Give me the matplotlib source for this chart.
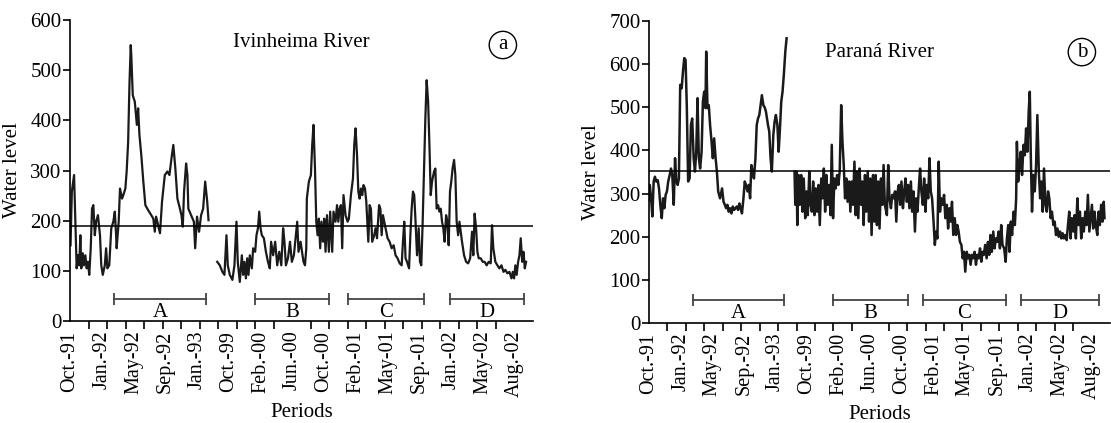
import numpy as np
import matplotlib.pyplot as plt

plt.rcParams['font.family'] = ['Liberation Serif', 'DejaVu Serif']

month_labels = ['Oct.-91', 'Jan.-92', 'May-92', 'Sep.-92', 'Jan.-93', 'Oct.-99', 'Feb.-00',
                'Jun.-00', 'Oct.-00', 'Feb.-01', 'May-01', 'Sep.-01', 'Jan.-02', 'May-02', 'Aug.-02']
n_ticks = 25

# Ivinheima River, period 1991-93 (x in tick units)
ivin_x1 = [0.03, 0.10, 0.22, 0.29, 0.36, 0.43, 0.50, 0.56, 0.61, 0.69, 0.76, 0.83, 0.90, 0.97,
           1.04, 1.12, 1.19, 1.26, 1.34, 1.41, 1.51, 1.62, 1.69, 1.77, 1.88, 1.95, 2.02, 2.12,
           2.23, 2.34, 2.42, 2.49, 2.52, 2.63, 2.70, 2.81, 2.88, 2.99, 3.06, 3.14, 3.21, 3.28,
           3.31, 3.39, 3.50, 3.61, 3.68, 3.75, 3.85, 3.96, 4.07, 4.22, 4.39, 4.50, 4.58, 4.65,
           4.76, 4.86, 4.97, 5.12, 5.26, 5.37, 5.48, 5.58, 5.69, 5.80, 5.91, 6.02, 6.09, 6.16,
           6.27, 6.34, 6.39, 6.54, 6.69, 6.76, 6.86, 6.97, 7.08, 7.19, 7.30, 7.41, 7.48]
ivin_y1 = [151, 258, 291, 198, 105, 131, 111, 171, 105, 135, 111, 131, 105, 118,
           92, 145, 224, 231, 171, 198, 211, 171, 111, 92, 111, 145, 105, 111,
           185, 198, 218, 171, 145, 198, 264, 244, 251, 264, 298, 357, 470, 550,
           530, 450, 437, 391, 424, 371, 331, 278, 231, 221, 211, 204, 178, 208,
           191, 175, 238, 291, 298, 291, 324, 351, 304, 244, 228, 211, 188, 258,
           314, 291, 224, 211, 198, 145, 208, 178, 211, 224, 278, 238, 201]
# Ivinheima River, period 1999-2002
ivin_x2 = [7.95, 8.09, 8.23, 8.34, 8.45, 8.52, 8.63, 8.77, 8.88, 8.99, 9.06, 9.17, 9.28, 9.35,
           9.42, 9.50, 9.57, 9.64, 9.71, 9.82, 9.89, 10.00, 10.07, 10.15, 10.22, 10.29, 10.36,
           10.47, 10.58, 10.69, 10.79, 10.86, 10.97, 11.08, 11.19, 11.30, 11.41, 11.51, 11.58,
           11.66, 11.77, 11.88, 11.98, 12.09, 12.20, 12.27, 12.34, 12.45, 12.61, 12.69, 12.76,
           12.79, 12.90, 13.01, 13.08, 13.15, 13.23, 13.30, 13.37, 13.44, 13.51, 13.58, 13.66,
           13.73, 13.80, 13.88, 13.98, 14.05, 14.16, 14.23, 14.34, 14.42, 14.49, 14.56, 14.63,
           14.70, 14.77, 14.88, 14.99, 15.06, 15.17, 15.28, 15.35, 15.42, 15.50, 15.57, 15.64,
           15.71, 15.78, 15.85, 15.93, 16.00, 16.11, 16.18, 16.25, 16.32, 16.43, 16.50, 16.58,
           16.69, 16.76, 16.83, 16.90, 17.01, 17.08, 17.15, 17.26, 17.37, 17.48, 17.58, 17.69,
           17.80, 17.91, 17.98, 18.05, 18.12, 18.20, 18.31, 18.38, 18.45, 18.52, 18.59, 18.66,
           18.74, 18.83, 18.90, 18.97, 19.04, 19.12, 19.19, 19.26, 19.34, 19.41, 19.48, 19.55,
           19.66, 19.73, 19.80, 19.88, 19.95, 20.02, 20.09, 20.16, 20.23, 20.31, 20.38, 20.45,
           20.52, 20.59, 20.66, 20.74, 20.81, 20.88, 20.96, 21.03, 21.10, 21.17, 21.28, 21.39,
           21.50, 21.61, 21.71, 21.78, 21.85, 21.93, 22.00, 22.07, 22.18, 22.29, 22.39, 22.50,
           22.61, 22.72, 22.79, 22.86, 22.97, 23.08, 23.19, 23.30, 23.41, 23.51, 23.62, 23.73,
           23.84, 23.91, 23.98, 24.05, 24.12, 24.20, 24.27, 24.34, 24.42, 24.49, 24.56, 24.63]
ivin_y2 = [118, 111, 98, 92, 171, 111, 92, 82, 111, 198, 118, 78, 131, 92,
           118, 85, 125, 92, 131, 105, 145, 138, 171, 185, 218, 185, 171,
           165, 138, 118, 105, 158, 131, 158, 111, 138, 111, 185, 158,
           111, 125, 158, 118, 131, 171, 198, 138, 158, 118, 111, 145,
           244, 278, 291, 351, 391, 304, 198, 171, 204, 145, 198, 158,
           204, 138, 211, 138, 218, 138, 218, 198, 231, 198, 224, 231,
           145, 251, 211, 198, 204, 251, 284, 351, 384, 331, 258, 244,
           264, 251, 271, 264, 238, 158, 231, 224, 158, 171, 185, 165,
           231, 224, 171, 211, 191, 178, 165, 158, 145, 151, 131, 125,
           115, 111, 158, 198, 125, 118, 105, 171, 224, 258, 251, 198,
           131, 185, 118, 111, 191, 304, 404, 480, 437, 351, 251, 278,
           298, 304, 224, 231, 218, 224, 198, 185, 158, 211, 198, 151,
           258, 278, 304, 321, 291, 198, 171, 198, 178, 158, 131, 118,
           115, 125, 178, 131, 214, 185, 138, 125, 125, 118, 118, 111,
           118, 115, 191, 145, 118, 111, 105, 111, 98, 102, 95, 98,
           85, 98, 85, 111, 92, 118, 131, 165, 118, 138, 105, 118]

# Parana River, period 1991-93
par_x1 = [0.00, 0.04, 0.11, 0.18, 0.25, 0.32, 0.39, 0.47, 0.54, 0.61, 0.69, 0.76, 0.83, 0.90,
          0.97, 1.04, 1.12, 1.19, 1.26, 1.34, 1.41, 1.48, 1.55, 1.62, 1.69, 1.77, 1.84, 1.91,
          1.98, 2.05, 2.12, 2.20, 2.27, 2.34, 2.42, 2.49, 2.56, 2.63, 2.70, 2.77, 2.85, 2.92,
          2.99, 3.06, 3.10, 3.17, 3.24, 3.31, 3.39, 3.46, 3.53, 3.61, 3.68, 3.75, 3.85, 3.96,
          4.04, 4.11, 4.18, 4.25, 4.32, 4.39, 4.47, 4.54, 4.61, 4.69, 4.76, 4.83, 4.90, 4.97,
          5.04, 5.12, 5.19, 5.26, 5.34, 5.41, 5.48, 5.55, 5.62, 5.69, 5.77, 5.84, 5.91, 5.98,
          6.05, 6.12, 6.20, 6.27, 6.34, 6.45, 6.52, 6.59, 6.66, 6.74, 6.81, 6.88, 6.96, 7.03,
          7.10, 7.17, 7.24, 7.31, 7.39, 7.46]
par_y1 = [285, 320, 289, 247, 328, 339, 328, 331, 312, 274, 243, 289, 266, 297,
          305, 328, 343, 358, 343, 274, 382, 328, 320, 335, 552, 544, 583, 614,
          610, 498, 328, 335, 459, 474, 382, 351, 397, 521, 382, 358, 397, 513,
          536, 498, 629, 498, 505, 459, 420, 382, 428, 382, 351, 305, 289, 312,
          281, 274, 266, 274, 258, 266, 254, 270, 262, 266, 270, 262, 277, 266,
          254, 289, 328, 320, 305, 320, 289, 366, 351, 335, 382, 459, 474, 482,
          505, 528, 505, 500, 490, 459, 444, 382, 351, 436, 467, 482, 459, 397,
          451, 513, 536, 575, 629, 660]
# Parana River, period 1999-2002
par_x2 = [7.89, 7.93, 8.00, 8.04, 8.11, 8.18, 8.25, 8.32, 8.39, 8.47, 8.54, 8.61, 8.69, 8.76,
          8.83, 8.90, 8.97, 9.04, 9.12, 9.19, 9.26, 9.34, 9.41, 9.48, 9.55, 9.62, 9.69, 9.77,
          9.84, 9.91, 9.98, 10.05, 10.12, 10.20, 10.27, 10.34, 10.42, 10.49, 10.56, 10.63,
          10.70, 10.77, 10.85, 10.92, 10.99, 11.06, 11.14, 11.21, 11.28, 11.35, 11.42, 11.50,
          11.57, 11.64, 11.71, 11.78, 11.86, 11.93, 12.00, 12.07, 12.15, 12.22, 12.29, 12.36,
          12.43, 12.50, 12.58, 12.65, 12.72, 12.79, 12.90, 12.97, 13.04, 13.12, 13.19, 13.26,
          13.34, 13.41, 13.48, 13.55, 13.62, 13.69, 13.77, 13.84, 13.91, 13.98, 14.05, 14.12,
          14.20, 14.27, 14.34, 14.42, 14.49, 14.56, 14.63, 14.70, 14.77, 14.85, 14.92, 14.99,
          15.06, 15.14, 15.21, 15.28, 15.35, 15.42, 15.50, 15.57, 15.64, 15.71, 15.78, 15.85,
          15.93, 16.00, 16.07, 16.15, 16.22, 16.29, 16.36, 16.43, 16.50, 16.58, 16.65, 16.72,
          16.79, 16.86, 16.94, 17.01, 17.08, 17.15, 17.23, 17.30, 17.37, 17.44, 17.51, 17.58,
          17.66, 17.73, 17.80, 17.88, 17.95, 18.02, 18.09, 18.16, 18.23, 18.31, 18.38, 18.45,
          18.52, 18.59, 18.67, 18.74, 18.81, 18.88, 18.96, 19.03, 19.10, 19.17, 19.26, 19.34,
          19.41, 19.48, 19.55, 19.62, 19.69, 19.77, 19.84, 19.91, 19.95, 20.02, 20.09, 20.16,
          20.23, 20.31, 20.38, 20.45, 20.52, 20.59, 20.65, 20.70, 20.77, 20.85, 20.92, 20.99,
          21.06, 21.14, 21.21, 21.28, 21.35, 21.42, 21.50, 21.57, 21.64, 21.71, 21.78, 21.85,
          21.93, 22.00, 22.07, 22.15, 22.22, 22.29, 22.36, 22.43, 22.50, 22.58, 22.65, 22.72,
          22.79, 22.86, 22.93, 23.01, 23.08, 23.15, 23.23, 23.30, 23.37, 23.44, 23.51, 23.58,
          23.66, 23.73, 23.80, 23.88, 23.95, 24.02, 24.09, 24.16, 24.23, 24.31, 24.38, 24.45,
          24.52, 24.59, 24.66, 24.70]
par_y2 = [351, 274, 351, 227, 343, 274, 343, 258, 335, 243, 305, 250, 351, 274,
          258, 328, 250, 312, 258, 320, 227, 335, 289, 358, 258, 343, 274, 320,
          250, 413, 243, 335, 312, 343, 320, 351, 505, 420, 366, 289,
          335, 281, 328, 258, 328, 274, 374, 250, 351, 243, 358, 274,
          328, 227, 343, 258, 351, 235, 335, 204, 343, 235, 343, 227,
          328, 219, 335, 274, 366, 274, 250, 366, 289, 266, 297, 289,
          305, 235, 305, 320, 274, 328, 266, 305, 335, 281, 320, 266,
          328, 258, 305, 212, 289, 258, 312, 358, 305, 274, 335, 258,
          320, 289, 382, 305, 289, 243, 181, 212, 196, 374, 258, 289,
          274, 297, 243, 274, 219, 266, 235, 281, 204, 243, 204, 227,
          212, 188, 181, 150, 165, 119, 165, 150, 158, 135, 158, 150,
          165, 135, 158, 150, 173, 142, 165, 158, 181, 150, 188, 158,
          204, 165, 212, 173, 196, 188, 212, 173, 227, 181, 173, 142,
          196, 227, 165, 235, 204, 258, 227, 289, 420, 328, 366, 397,
          343, 413, 389, 451, 397, 490, 536, 397, 258, 343, 305, 366,
          482, 351, 289, 328, 258, 358, 274, 258, 305, 289, 243, 258,
          227, 235, 204, 219, 200, 212, 196, 208, 196, 204, 192, 227,
          258, 196, 243, 212, 250, 196, 289, 227, 258, 196, 243, 212,
          258, 227, 297, 212, 243, 274, 219, 258, 227, 204, 258, 227,
          274, 235, 281, 243]

period_names = ['A', 'B', 'C', 'D']
ivin_periods = [(2.38, 7.35), (10.0, 14.0), (15.0, 19.1), (20.5, 24.5)]
par_periods = [(2.38, 7.3), (9.95, 14.05), (14.86, 19.35), (20.2, 24.4)]
ivin_mean = 190
par_mean = 352

fig = plt.figure(figsize=(11.11, 4.23), dpi=100)
ax1 = fig.add_axes([0.063, 0.2411, 0.4167, 0.7116])
ax2 = fig.add_axes([0.5842, 0.2364, 0.4149, 0.714])

panels = [
    (ax1, [(ivin_x1, ivin_y1), (ivin_x2, ivin_y2)], ivin_mean, ivin_periods, 600,
     'Ivinheima River', 0.924, 'a', 0.935, 0.917, 44, 17, 1.6),
    (ax2, [(par_x1, par_y1), (par_x2, par_y2)], par_mean, par_periods, 700,
     'Paraná River', 0.897, 'b', 0.939, 0.897, 53, 23, 1.8),
]

for (ax, segs, mean, periods, ymax, title, ty, tag, tagx, tagy, by, ly, lw) in panels:
    for xs, ys in segs:
        ax.plot(xs, ys, color='#1a1a1a', lw=lw)
    ax.axhline(mean, color='black', lw=1.1)
    for name, (s, e) in zip(period_names, periods):
        ax.plot([s, e], [by, by], color='#444444', lw=1.3, marker='|',
                markersize=8, markeredgewidth=1.3)
        ax.text((s + e) / 2, ly, name, ha='center', va='center', fontsize=15)

    ax.set_xlim(0, 25)
    ax.set_ylim(0, ymax)
    ax.spines['top'].set_visible(False)
    ax.spines['right'].set_visible(False)
    for sp in ('left', 'bottom'):
        ax.spines[sp].set_linewidth(1.2)

    ax.set_xticks(np.arange(n_ticks), minor=True)
    ax.set_xticks(np.linspace(0, n_ticks - 1, len(month_labels)))
    ax.set_xticklabels(month_labels, rotation=90, fontsize=14.5)
    ax.tick_params(axis='x', which='major', length=0, pad=7)
    ax.tick_params(axis='x', which='minor', length=6, width=1.2, direction='out')
    ax.set_yticks(np.arange(0, ymax + 1, 100))
    ax.tick_params(axis='y', length=5, width=1.2, labelsize=15, pad=1)

    ax.set_ylabel('Water level', fontsize=15, labelpad=6)
    ax.set_xlabel('Periods', fontsize=15, labelpad=4)
    ax.text(0.5, ty, title, transform=ax.transAxes, ha='center', va='center', fontsize=15)
    ax.text(tagx, tagy, tag, transform=ax.transAxes, ha='center', va='center', fontsize=15,
            bbox=dict(boxstyle='circle,pad=0.2', fc='white', ec='black', lw=1.0))

fig.savefig('out.png', dpi=100)
